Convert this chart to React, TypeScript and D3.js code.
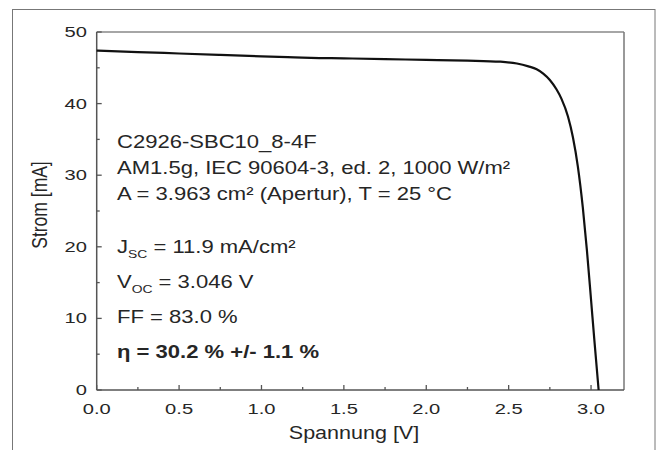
import React from "react";
import * as d3 from "d3";

const voltage = [0, 0.25, 0.5, 0.75, 1.0, 1.2, 1.3, 1.5, 1.75, 2.0, 2.25, 2.45, 2.55, 2.62, 2.67, 2.71, 2.75, 2.79, 2.82, 2.86, 2.89, 2.92, 2.95, 2.975, 3.0, 3.02, 3.046];
const current = [47.4, 47.2, 47.0, 46.8, 46.6, 46.45, 46.38, 46.32, 46.22, 46.1, 46.0, 45.85, 45.6, 45.2, 44.8, 44.2, 43.3, 42.0, 40.7, 38.2, 35.3, 31.2, 25.5, 19.5, 12.6, 7.0, 0];

const xMajor = [0, 0.5, 1.0, 1.5, 2.0, 2.5, 3.0];
const xMinor = [0.25, 0.75, 1.25, 1.75, 2.25, 2.75];
const yMajor = [0, 10, 20, 30, 40, 50];
const yMinor = [5, 15, 25, 35, 45];

const infoLines = [
  "C2926-SBC10_8-4F",
  "AM1.5g, IEC 90604-3, ed. 2, 1000 W/m²",
  "A = 3.963 cm² (Apertur), T = 25 °C",
];
const jsc = "= 11.9 mA/cm²";
const voc = "= 3.046 V";
const ff = "FF = 83.0 %";
const eta = "η = 30.2 % +/- 1.1 %";
const xTitle = "Spannung [V]";
const yTitle = "Strom [mA]";

const W = 662, H = 450;
const L = 96.7, R = 624, T = 32, B = 390;
const FONT = "'Liberation Sans', Arial, Helvetica, sans-serif";
const TXT = "#262626";

function SText({ x, y, s = 1.26, size = 17.5, anchor = "start", weight = "normal", children }: any) {
  return (
    <text transform={`translate(${x},${y}) scale(${s},1)`} textAnchor={anchor} fontSize={size} fontWeight={weight} fontFamily={FONT} fill={TXT}>
      {children}
    </text>
  );
}

export default function App() {
  const x = d3.scaleLinear().domain([0, 3.2]).range([L, R]);
  const y = d3.scaleLinear().domain([0, 50]).range([B, T]);
  const pts: [number, number][] = voltage.map((v, i) => [v, current[i]]);
  const line = d3.line<[number, number]>().x(d => x(d[0])).y(d => y(d[1])).curve(d3.curveMonotoneX);
  const axisColor = "#555";
  const tx = 117;
  const infoY = [148, 174, 200];
  return (
    <svg width={W} height={H} style={{ position: "absolute", left: 0, top: 0, background: "#fff" }}>
      <rect x={12.5} y={9.5} width={642.5} height={460} fill="none" stroke="#777" strokeWidth={1} />
      <line x1={L} y1={T} x2={R} y2={T} stroke="#888" strokeWidth={1.5} />
      <line x1={R} y1={T} x2={R} y2={B} stroke="#777" strokeWidth={1.5} />
      <line x1={L} y1={T} x2={L} y2={B} stroke={axisColor} strokeWidth={1.5} />
      <line x1={L} y1={B} x2={R} y2={B} stroke={axisColor} strokeWidth={1.5} />
      {xMajor.map(v => (
        <g key={"xM" + v}>
          <line x1={x(v)} x2={x(v)} y1={B} y2={B - 5} stroke={axisColor} strokeWidth={1.3} />
          <SText x={x(v)} y={413.5} size={15.5} s={1.3} anchor="middle">{v.toFixed(1)}</SText>
        </g>
      ))}
      {xMinor.map(v => (
        <line key={"xm" + v} x1={x(v)} x2={x(v)} y1={B} y2={B - 3} stroke={axisColor} strokeWidth={1.3} />
      ))}
      {yMajor.map(v => (
        <g key={"yM" + v}>
          <line x1={L} x2={L + 5} y1={y(v)} y2={y(v)} stroke={axisColor} strokeWidth={1.3} />
          <SText x={87} y={y(v) + 5} size={15.5} s={1.3} anchor="end">{String(v)}</SText>
        </g>
      ))}
      {yMinor.map(v => (
        <line key={"ym" + v} x1={L} x2={L + 3} y1={y(v)} y2={y(v)} stroke={axisColor} strokeWidth={1.3} />
      ))}
      <path d={line(pts) || ""} fill="none" stroke="#111" strokeWidth={2.2} />
      {infoLines.map((t, i) => (
        <SText key={t} x={tx} y={infoY[i]}>{t}</SText>
      ))}
      <SText x={tx} y={253}>
        J<tspan fontSize={11} dy={5}>SC</tspan><tspan dy={-5}> {jsc}</tspan>
      </SText>
      <SText x={tx} y={288}>
        V<tspan fontSize={11} dy={5}>OC</tspan><tspan dy={-5}> {voc}</tspan>
      </SText>
      <SText x={tx} y={323}>{ff}</SText>
      <SText x={tx} y={358} weight="bold">{eta}</SText>
      <SText x={354} y={439} size={17.5} s={1.23} anchor="middle">{xTitle}</SText>
      <text transform={`translate(47,205) rotate(-90) scale(1,1.25)`} textAnchor="middle" fontSize={17.5} fontFamily={FONT} fill={TXT}>{yTitle}</text>
    </svg>
  );
}
